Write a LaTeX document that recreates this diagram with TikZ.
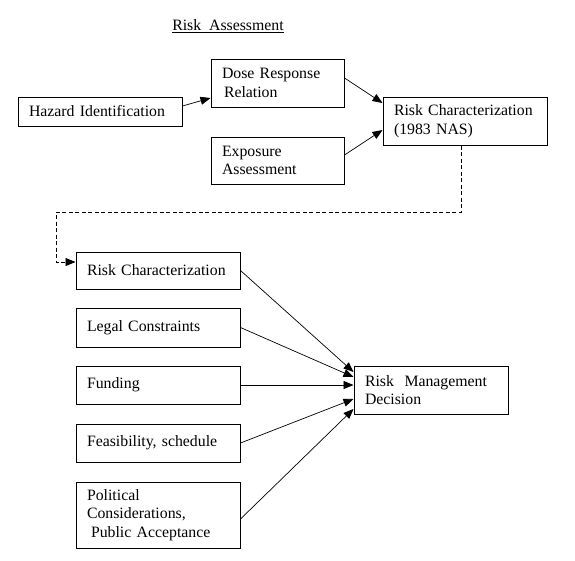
\documentclass[tikz,border=0pt]{standalone}
\usepackage{fontspec}
\setmainfont{Liberation Serif}
\usetikzlibrary{arrows.meta}

\begin{document}
\begin{tikzpicture}[x=1pt,y=-1pt,line width=0.7pt,>={Triangle[length=10pt,width=8pt]},
    font=\fontsize{15.8}{18.7}\selectfont,
    box/.style 2 args={draw,rectangle,line width=1pt,align=left,inner xsep=11pt,inner ysep=0pt,text width=#1,minimum height=#2}]

    \useasboundingbox (0,0) rectangle (575,560);

        \node (title) at (228,26) {\underline{Risk\ \ Assessment}};

        \node [box={142pt}{29pt}] (haz) at (100,111.5) {Hazard Identification};
        \node [box={111pt}{48pt}] (dose) at (277.5,83) {Dose Response\\\hspace{2pt}Relation};
        \node [box={111pt}{47pt}] (expo) at (277.5,160.5) {Exposure\\Assessment};
        \node [box={142pt}{48pt}] (nas) at (465,121) {Risk Characterization\\(1983 NAS)};

        \node [box={142pt}{37pt}] (rc) at (158,270.5) {Risk Characterization};
        \node [box={142pt}{39pt}] (legal) at (158,327.5) {Legal Constraints};
        \node [box={142pt}{38pt}] (fund) at (158,385) {Funding};
        \node [box={142pt}{38pt}] (feas) at (158,443) {Feasibility, schedule};
        \node [box={142pt}{66pt}] (pol) at (158,515) {Political\\Considerations,\\\hspace{4pt}Public Acceptance};
        \node [box={132pt}{48pt}] (rmd) at (431,390) {Risk\ \ Management\\Decision};

        \coordinate (turn) at (56,212);

        \path[->] ([yshift=5.5pt]haz.east) edge ([yshift=-15pt]dose.west);
        \path[->] ([yshift=5pt]dose.east) edge ([yshift=18pt]nas.west);
        \path[->] ([yshift=5.5pt]expo.east) edge ([yshift=-9pt]nas.west);

        \draw[->,dash pattern=on 4pt off 2.5pt] ([xshift=-4pt]nas.south) |- (turn) |- ([yshift=8.5pt]rc.west);

        \path[->] (rc.east) edge ([yshift=18pt]rmd.west);
        \path[->] (legal.east) edge ([yshift=13pt]rmd.west);
        \path[->] (fund.east) edge ([yshift=5pt]rmd.west);
        \path[->] (feas.east) edge ([yshift=-9pt]rmd.west);
        \path[->] ([yshift=-4pt]pol.east) edge ([yshift=-19pt]rmd.west);

    \end{tikzpicture}
\end{document}
